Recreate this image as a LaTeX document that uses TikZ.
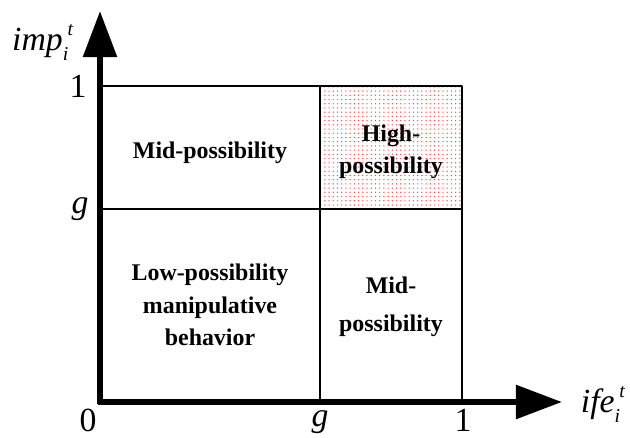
\documentclass[tikz,border=0pt]{standalone}
\usepackage{fontspec}
\setmainfont{Liberation Serif}
\usetikzlibrary{arrows.meta,patterns}
% sub- and superscript, the superscript a little to the right
\newcommand{\tidx}[2]{\raisebox{-0.28em}{\fontsize{14}{14}\selectfont\itshape #2}\kern-0.5pt\raisebox{0.46em}{\fontsize{14}{14}\selectfont\itshape #1}}
\begin{document}
\begin{tikzpicture}[x=0.025cm, y=0.025cm, line cap=round, line join=round, >={Triangle[length=1.15cm, width=0.82cm]}]
	\tikzset{cell text/.style={font=\fontsize{17}{21}\selectfont\bfseries, align=center},
		tick label/.style={font=\fontsize{24}{28}\selectfont},
		axis/.style={line width=4.4pt, line cap=butt}}
	\useasboundingbox (-100,-35) rectangle (530,402);
	\coordinate (O) at (0,0);
	\coordinate (xtip) at (462,0);
	\coordinate (ytip) at (0,391);
	% grid
	\fill[white, pattern=dots, pattern color=red!75] (220,193) rectangle (362,316);
	\draw[line width=1pt] (O) rectangle (362,316) (220,0)--(220,316) (0,193)--(362,193);
	\draw[axis, ->] (-2,0)--(xtip);
	\draw[axis, ->] (0,-2)--(ytip);
	% labels
	\node[tick label] (lo) at (-12,-18) {0};
	\node[tick label] (gx) at (220,-20) {\textit{g}};
	\node[tick label] (one x) at (363,-18) {1};
	\node[tick label] (gy) at (-20,193) {\textit{g}};
	\node[tick label] (one y) at (-22,316) {1};
	\node[tick label, anchor=west] (xl) at (476,-2) {\textit{ife}\tidx{t}{i}};
	\node[tick label, anchor=east] (yl) at (-22,360) {\textit{imp}\tidx{t}{i}};
	\node[cell text] (mid a) at (110,249) {Mid-possibility};
	\node[cell text] (high) at (291,250) {High-\\[2pt]possibility};
	\node[cell text] (low) at (110,97) {Low-possibility\\[2pt]manipulative\\[2pt]behavior};
	\node[cell text] (mid b) at (291,95) {Mid-\\[6pt]possibility};
\end{tikzpicture}
\end{document}
